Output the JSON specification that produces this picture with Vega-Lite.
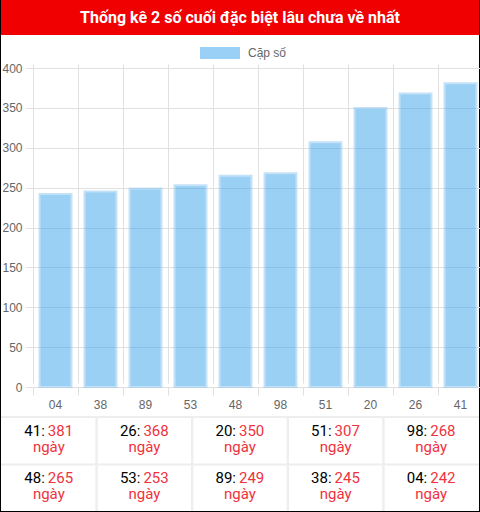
{
  "$schema": "https://vega.github.io/schema/vega-lite/v6.json",
  "background": "#000000",
  "padding": {"left": 1, "right": 1, "top": 0, "bottom": 1},
  "spacing": 0,
  "config": {"view": {"stroke": null}},
  "datasets": {
    "bars": [
      {"so": "04", "ngay": 242},
      {"so": "38", "ngay": 245},
      {"so": "89", "ngay": 249},
      {"so": "53", "ngay": 253},
      {"so": "48", "ngay": 265},
      {"so": "98", "ngay": 268},
      {"so": "51", "ngay": 307},
      {"so": "20", "ngay": 350},
      {"so": "26", "ngay": 368},
      {"so": "41", "ngay": 381}
    ],
    "cells": [
      {"col": 0, "row": 0, "so": "41", "ngay": 381},
      {"col": 1, "row": 0, "so": "26", "ngay": 368},
      {"col": 2, "row": 0, "so": "20", "ngay": 350},
      {"col": 3, "row": 0, "so": "51", "ngay": 307},
      {"col": 4, "row": 0, "so": "98", "ngay": 268},
      {"col": 0, "row": 1, "so": "48", "ngay": 265},
      {"col": 1, "row": 1, "so": "53", "ngay": 253},
      {"col": 2, "row": 1, "so": "89", "ngay": 249},
      {"col": 3, "row": 1, "so": "38", "ngay": 245},
      {"col": 4, "row": 1, "so": "04", "ngay": 242}
    ]
  },
  "vconcat": [
    {
      "width": 478,
      "height": 35,
      "view": {"fill": "#f00000", "stroke": null},
      "data": {"values": [{"tieude": "Thống kê 2 số cuối đặc biệt lâu chưa về nhất"}]},
      "mark": {
        "type": "text",
        "font": "Roboto",
        "fontSize": 16,
        "fontWeight": "bold",
        "color": "#ffffff",
        "align": "center",
        "baseline": "middle"
      },
      "encoding": {"text": {"field": "tieude"}}
    },
    {
      "width": 478,
      "height": 381,
      "view": {"fill": "#ffffff", "stroke": null},
      "data": {"name": "bars"},
      "mark": {
        "type": "bar",
        "clip": true,
        "opacity": 0.5,
        "stroke": "#89c7f3",
        "strokeWidth": 2,
        "width": {"band": 0.71}
      },
      "encoding": {
        "x": {
          "field": "so",
          "type": "nominal",
          "sort": null,
          "scale": {"range": [32, 482], "paddingInner": 0, "paddingOuter": 0},
          "axis": {
            "title": null,
            "orient": "bottom",
            "offset": -29,
            "domain": false,
            "bandPosition": 0,
            "labelAngle": 0,
            "labelPadding": 4,
            "tickSize": 8,
            "tickColor": "#e0e0e0",
            "grid": true,
            "gridColor": "#e0e0e0",
            "labelFont": "Liberation Sans",
            "labelFontSize": 12,
            "labelColor": "#666666"
          }
        },
        "y": {
          "field": "ngay",
          "type": "quantitative",
          "scale": {"domain": [0, 400], "range": [352, 33], "nice": false},
          "axis": {
            "title": null,
            "offset": -32,
            "minExtent": 0,
            "values": [0, 50, 100, 150, 200, 250, 300, 350, 400],
            "domain": false,
            "tickSize": 8,
            "tickColor": "#e0e0e0",
            "grid": true,
            "gridColor": "#e0e0e0",
            "labelPadding": 3,
            "labelFont": "Liberation Sans",
            "labelFontSize": 12,
            "labelColor": "#666666"
          }
        },
        "color": {
          "datum": "Cặp số",
          "scale": {"range": ["#36a2eb"]},
          "legend": {
            "orient": "none",
            "legendX": 209,
            "legendY": 43,
            "title": null,
            "padding": 0,
            "symbolType": "M-2,-0.6H2V0.6H-2Z",
            "symbolSize": 400,
            "symbolStrokeWidth": 0,
            "labelOffset": 18,
            "labelFont": "Liberation Sans",
            "labelFontSize": 12,
            "labelColor": "#666666"
          }
        }
      }
    },
    {
      "width": 478,
      "height": 95,
      "view": {"fill": "#ffffff", "stroke": null},
      "data": {"name": "cells"},
      "transform": [{"calculate": "datum.so + ':'", "as": "nhan"}],
      "layer": [
        {
          "transform": [{"filter": "datum.col > 0"}],
          "mark": {"type": "rule", "clip": true, "strokeWidth": 2, "color": "#eeeeee"},
          "encoding": {
            "x": {"field": "col", "type": "ordinal", "bandPosition": 0, "scale": {"paddingInner": 0, "paddingOuter": 0}, "axis": null}
          }
        },
        {
          "transform": [{"filter": "datum.col == 0"}],
          "mark": {"type": "rule", "clip": true, "strokeWidth": 2, "color": "#eeeeee", "yOffset": 1},
          "encoding": {
            "y": {"field": "row", "type": "ordinal", "bandPosition": 0, "scale": {"paddingInner": 0, "paddingOuter": 0}, "axis": null}
          }
        },
        {
          "mark": {"type": "text", "align": "right", "baseline": "alphabetic", "dx": -4, "dy": -4, "font": "Roboto", "fontSize": 15, "color": "#000000"},
          "encoding": {
            "x": {"field": "col", "type": "ordinal", "axis": null},
            "y": {"field": "row", "type": "ordinal", "axis": null},
            "text": {"field": "nhan"}
          }
        },
        {
          "mark": {"type": "text", "align": "left", "baseline": "alphabetic", "dx": -1, "dy": -4, "font": "Roboto", "fontSize": 15, "color": "#f0323c"},
          "encoding": {
            "x": {"field": "col", "type": "ordinal", "axis": null},
            "y": {"field": "row", "type": "ordinal", "axis": null},
            "text": {"field": "ngay"}
          }
        },
        {
          "mark": {"type": "text", "align": "center", "baseline": "alphabetic", "dy": 12, "font": "Roboto", "fontSize": 15, "color": "#f0323c"},
          "encoding": {
            "x": {"field": "col", "type": "ordinal", "axis": null},
            "y": {"field": "row", "type": "ordinal", "axis": null},
            "text": {"value": "ngày"}
          }
        }
      ]
    }
  ]
}
